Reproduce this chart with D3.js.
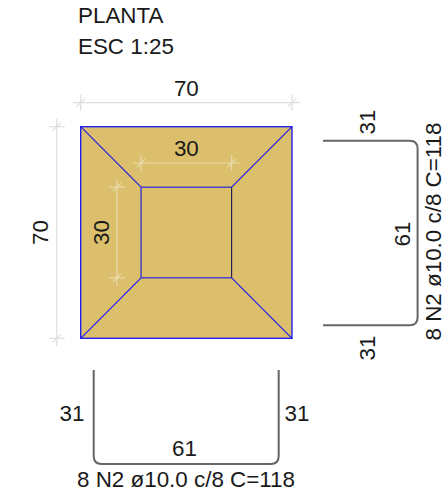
<!DOCTYPE html>
<html><head><meta charset="utf-8">
<script src="https://cdn.jsdelivr.net/npm/d3@7/dist/d3.min.js"></script>
<style>html,body{margin:0;padding:0;background:#fff;overflow:hidden}svg{display:block}text{font-family:"Liberation Sans",Arial,sans-serif;fill:#1a1a1a}</style>
</head><body><svg id="c" width="446" height="495"></svg>
<script>
const titleLines = ["PLANTA", "ESC 1:25"];
const outerSize = 70;
const innerStart = 20;
const innerEnd = 50;
const outerLabel = "70";
const innerLabel = "30";
const barLegs = [31, 61, 31];
const barLabel = "8 N2 ø10.0 c/8 C=118";

const svg = d3.select("#c");
const x = d3.scaleLinear().domain([0, outerSize]).range([80.7, 292]);
const y = d3.scaleLinear().domain([0, outerSize]).range([126.7, 338.3]);
const W = "#dedede", GOLD = "#dcbf6c", BLUE = "#1414f0", GREY = "#666";
const fs = 22.4;

svg.selectAll(".title").data(titleLines).join("text")
  .attr("x", 78).attr("y", (d, i) => 23 + i * 30.7).attr("font-size", fs).text(d => d);

svg.append("rect").attr("x", x(0)).attr("y", y(0)).attr("width", x(outerSize) - x(0))
  .attr("height", y(outerSize) - y(0)).attr("fill", GOLD);

const corners = [[0,0,innerStart,innerStart],[outerSize,0,innerEnd,innerStart],[0,outerSize,innerStart,innerEnd],[outerSize,outerSize,innerEnd,innerEnd]];
svg.selectAll(".hip").data(corners).join("line")
  .attr("x1", d => x(d[0])).attr("y1", d => y(d[1])).attr("x2", d => x(d[2])).attr("y2", d => y(d[3]))
  .attr("stroke", BLUE).attr("stroke-width", 1.1);
svg.append("rect").attr("x", x(0)).attr("y", y(0)).attr("width", x(outerSize) - x(0))
  .attr("height", y(outerSize) - y(0)).attr("fill", "none").attr("stroke", BLUE).attr("stroke-width", 1.3);
const inner = d3.path();
inner.moveTo(x(innerEnd), y(innerStart)); inner.lineTo(x(innerStart), y(innerStart));
inner.lineTo(x(innerStart), y(innerEnd)); inner.lineTo(x(innerEnd), y(innerEnd));
svg.append("path").attr("d", inner.toString()).attr("fill", "none").attr("stroke", "#4a44c8").attr("stroke-width", 1.5);
svg.append("line").attr("x1", x(innerEnd)).attr("x2", x(innerEnd)).attr("y1", y(innerStart)).attr("y2", y(innerEnd))
  .attr("stroke", "#141450").attr("stroke-width", 1.1);

function dimH(a, b, py, col, label, ly) {
  const g = svg.append("g").attr("stroke", col).attr("fill", "none").attr("stroke-width", 1.2);
  g.append("line").attr("x1", x(a) - 8).attr("x2", x(b) + 8).attr("y1", py).attr("y2", py);
  [a, b].forEach(v => {
    g.append("line").attr("x1", x(v)).attr("x2", x(v)).attr("y1", py - 8).attr("y2", py + 8);
    g.append("line").attr("x1", x(v) - 4).attr("x2", x(v) + 4).attr("y1", py + 4).attr("y2", py - 4);
  });
  svg.append("text").attr("x", (x(a) + x(b)) / 2).attr("y", ly).attr("text-anchor", "middle").attr("font-size", fs).text(label);
}
function dimV(a, b, px, col, label, lx) {
  const g = svg.append("g").attr("stroke", col).attr("fill", "none").attr("stroke-width", 1.2);
  g.append("line").attr("y1", y(a) - 8).attr("y2", y(b) + 8).attr("x1", px).attr("x2", px);
  [a, b].forEach(v => {
    g.append("line").attr("y1", y(v)).attr("y2", y(v)).attr("x1", px - 8).attr("x2", px + 8);
    g.append("line").attr("y1", y(v) + 4).attr("y2", y(v) - 4).attr("x1", px - 4).attr("x2", px + 4);
  });
  const c = (y(a) + y(b)) / 2;
  svg.append("text").attr("transform", `translate(${lx},${c}) rotate(-90)`).attr("text-anchor", "middle").attr("font-size", fs).text(label);
}
dimH(0, outerSize, 102.7, W, outerLabel, 96);
dimV(0, outerSize, 56.7, W, outerLabel, 48);
dimH(innerStart, innerEnd, 163, "#e8dcae", innerLabel, 155.5);
dimV(innerStart, innerEnd, 117, "#e8dcae", innerLabel, 109);

const bx = d3.scaleLinear().domain([0, barLegs[1]]).range([93.7, 278.7]);
const bv = d3.scaleLinear().domain([0, barLegs[0]]).range([464, 370]);
const r = 8;
const bottom = d3.path();
bottom.moveTo(bx(0), bv(barLegs[0])); bottom.lineTo(bx(0), bv(0) - r);
bottom.quadraticCurveTo(bx(0), bv(0), bx(0) + r, bv(0));
bottom.lineTo(bx(barLegs[1]) - r, bv(0));
bottom.quadraticCurveTo(bx(barLegs[1]), bv(0), bx(barLegs[1]), bv(0) - r);
bottom.lineTo(bx(barLegs[1]), bv(barLegs[2]));
svg.append("path").attr("d", bottom.toString()).attr("fill", "none").attr("stroke", GREY).attr("stroke-width", 2);

const ry = d3.scaleLinear().domain([0, barLegs[1]]).range([325.3, 140.7]);
const rh = d3.scaleLinear().domain([0, barLegs[0]]).range([417.6, 323]);
const right = d3.path();
right.moveTo(rh(barLegs[0]), ry(barLegs[1])); right.lineTo(rh(0) - r, ry(barLegs[1]));
right.quadraticCurveTo(rh(0), ry(barLegs[1]), rh(0), ry(barLegs[1]) + r);
right.lineTo(rh(0), ry(0) - r);
right.quadraticCurveTo(rh(0), ry(0), rh(0) - r, ry(0));
right.lineTo(rh(barLegs[2]), ry(0));
svg.append("path").attr("d", right.toString()).attr("fill", "none").attr("stroke", GREY).attr("stroke-width", 2);

const t = (px, py, s) => svg.append("text").attr("x", px).attr("y", py).attr("text-anchor", "middle").attr("font-size", fs).text(s);
t(72, 421, barLegs[0]);
t(297, 421, barLegs[2]);
t(184.5, 456, barLegs[1]);
t(186, 487, barLabel);
const tr = (px, py, s) => svg.append("text").attr("transform", `translate(${px},${py}) rotate(-90)`).attr("text-anchor", "middle").attr("font-size", fs).text(s);
tr(375, 122, barLegs[0]);
tr(375, 348, barLegs[2]);
tr(410, 234, barLegs[1]);
tr(441, 231.5, barLabel);
</script></body></html>
